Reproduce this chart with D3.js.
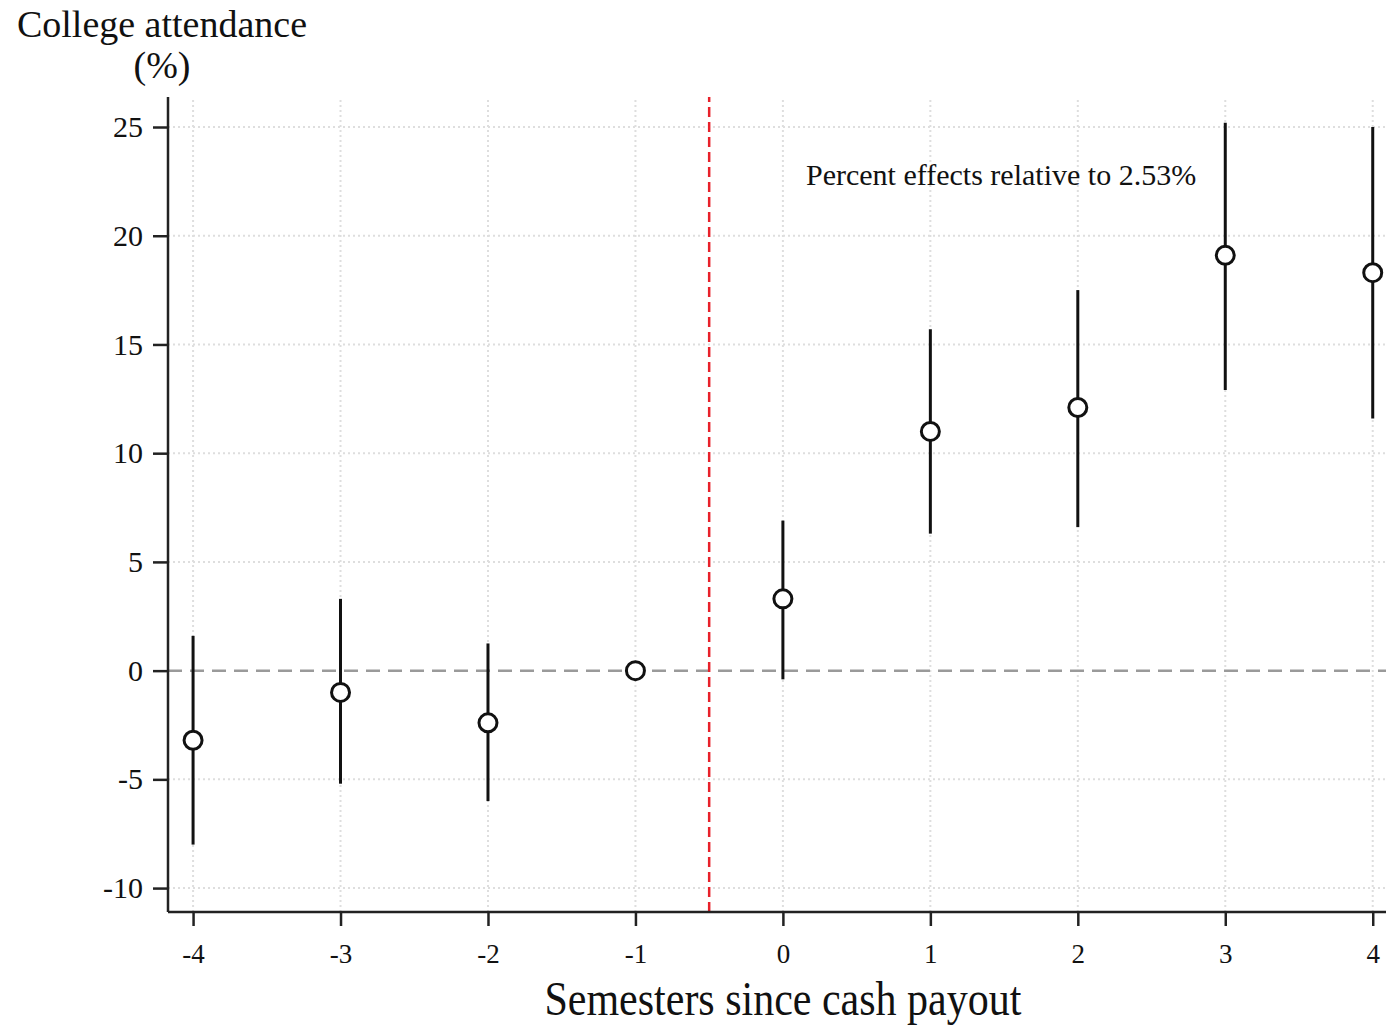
<!DOCTYPE html>
<html>
<head>
<meta charset="utf-8">
<script src="https://cdn.jsdelivr.net/npm/d3@7"></script>
<style>
  body { margin: 0; background: #fff; }
  text { font-family: "Liberation Serif", "Times New Roman", serif; fill: #111; }
</style>
</head>
<body>
<svg width="1386" height="1028"></svg>
<script>
// semesters relative to payout
var semesters = [-4, -3, -2, -1, 0, 1, 2, 3, 4];
var estimates = [-3.2, -1.0, -2.4, 0, 3.3, 11.0, 12.1, 19.1, 18.3];
var ciLow = [-8.0, -5.2, -6.0, null, -0.4, 6.3, 6.6, 12.9, 11.6];
var ciHigh = [1.6, 3.3, 1.25, null, 6.9, 15.7, 17.5, 25.2, 25.0];
var yTicks = [-10, -5, 0, 5, 10, 15, 20, 25];
var eventLine = -0.5;

const svg = d3.select("svg"),
  width = +svg.attr("width"),
  height = +svg.attr("height");

const margin = {left: 168, right: 0, top: 97, bottom: 116};

const x = d3.scaleLinear()
  .domain([-4.17, 4.09])
  .range([margin.left, width - margin.right]);

const y = d3.scaleLinear()
  .domain([-11.1, 26.38])
  .range([height - margin.bottom, margin.top]);

const rows = semesters.map((s, i) => ({s: s, est: estimates[i], lo: ciLow[i], hi: ciHigh[i]}));

// light dotted grid
svg.append("g")
  .selectAll("line")
  .data(semesters)
  .enter().append("line")
    .attr("x1", d => x(d)).attr("x2", d => x(d))
    .attr("y1", y.range()[0]).attr("y2", y.range()[1])
    .attr("stroke", "#dedede")
    .attr("stroke-width", 2)
    .attr("stroke-dasharray", "2,3");

svg.append("g")
  .selectAll("line")
  .data(yTicks.filter(d => d !== 0))
  .enter().append("line")
    .attr("x1", x.range()[0]).attr("x2", x.range()[1])
    .attr("y1", d => y(d)).attr("y2", d => y(d))
    .attr("stroke", "#dedede")
    .attr("stroke-width", 2)
    .attr("stroke-dasharray", "2,3");

// zero reference
svg.append("line")
  .attr("x1", x.range()[0]).attr("x2", x.range()[1])
  .attr("y1", y(0)).attr("y2", y(0))
  .attr("stroke", "#9a9a9a")
  .attr("stroke-width", 2.5)
  .attr("stroke-dasharray", "14,8");

// payout line
svg.append("line")
  .attr("x1", x(eventLine)).attr("x2", x(eventLine))
  .attr("y1", y.range()[0]).attr("y2", y.range()[1])
  .attr("stroke", "#e8212a")
  .attr("stroke-width", 2.5)
  .attr("stroke-dasharray", "10,5");

// axes
const xAxis = svg.append("g")
  .attr("transform", "translate(0," + y.range()[0] + ")")
  .call(d3.axisBottom(x).tickValues(semesters).tickSize(14).tickPadding(18).tickFormat(d => String(d)));

const yAxis = svg.append("g")
  .attr("transform", "translate(" + x.range()[0] + ",0)")
  .call(d3.axisLeft(y).tickValues(yTicks).tickSize(15).tickPadding(10).tickFormat(d => String(d)));

[xAxis, yAxis].forEach(g => {
  g.select(".domain").attr("stroke", "#222").attr("stroke-width", 2.5);
  g.selectAll(".tick line").attr("stroke", "#222").attr("stroke-width", 2.5);
  g.selectAll(".tick text").attr("fill", "#111")
    .attr("font-family", "Liberation Serif, serif");
});
xAxis.selectAll(".tick text").attr("font-size", 27);
yAxis.selectAll(".tick text").attr("font-size", 30);
xAxis.select(".domain").attr("d", "M" + x.range()[0] + ",0H" + x.range()[1]);
yAxis.select(".domain").attr("d", "M0," + y.range()[0] + "V" + y.range()[1]);

// confidence intervals
svg.append("g")
  .selectAll("line")
  .data(rows.filter(d => d.lo !== null))
  .enter().append("line")
    .attr("x1", d => x(d.s)).attr("x2", d => x(d.s))
    .attr("y1", d => y(d.lo)).attr("y2", d => y(d.hi))
    .attr("stroke", "#111")
    .attr("stroke-width", 3);

// point estimates
svg.append("g")
  .selectAll("circle")
  .data(rows)
  .enter().append("circle")
    .attr("cx", d => x(d.s))
    .attr("cy", d => y(d.est))
    .attr("r", 9)
    .attr("fill", "#fff")
    .attr("stroke", "#111")
    .attr("stroke-width", 3);

// labels
svg.append("text")
  .attr("x", 162).attr("y", 37)
  .attr("text-anchor", "middle")
  .attr("font-size", 38)
  .text("College attendance");
svg.append("text")
  .attr("x", 162).attr("y", 78)
  .attr("text-anchor", "middle")
  .attr("font-size", 38)
  .text("(%)");

svg.append("text")
  .attr("transform", "translate(" + x(0) + ",1015) scale(1,1.16)")
  .attr("text-anchor", "middle")
  .attr("font-size", 42)
  .text("Semesters since cash payout");

svg.append("text")
  .attr("x", 806).attr("y", 185)
  .attr("font-size", 30)
  .text("Percent effects relative to 2.53%");
</script>
</body>
</html>
